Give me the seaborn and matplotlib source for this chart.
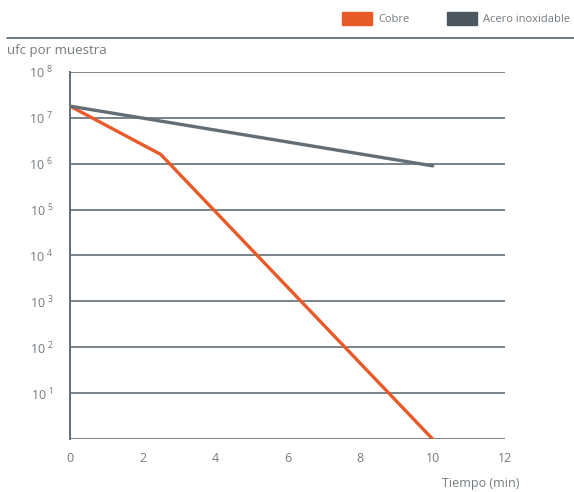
import seaborn as sns
import matplotlib.pyplot as plt
import matplotlib.patches as mpatches
from matplotlib.lines import Line2D
from matplotlib.ticker import FixedLocator, FixedFormatter
import pandas as pd

# data
cobre_t = [0, 2.5, 10]
cobre_ufc = [1.8e7, 1.6e6, 1.0]
acero_t = [0, 10]
acero_ufc = [1.8e7, 9.0e5]
series_names = ['Cobre', 'Acero inoxidable']
x_ticks = [0, 2, 4, 6, 8, 10, 12]
y_decades = [0, 1, 2, 3, 4, 5, 6, 7, 8]

orange = '#E85A28'
slate = '#646E76'
slate_dark = '#4B5861'
txt = '#747B80'

df = pd.DataFrame({
    't': cobre_t + acero_t,
    'ufc': cobre_ufc + acero_ufc,
    'serie': [series_names[0]] * len(cobre_t) + [series_names[1]] * len(acero_t),
})

sns.set_style('white')
plt.rcParams['font.family'] = ['Open Sans', 'DejaVu Sans']
plt.rcParams['mathtext.default'] = 'regular'

fig = plt.figure(figsize=(5.74, 4.92), dpi=100)
ax = fig.add_axes([0.122, 0.1077, 0.758, 0.746])

sns.lineplot(data=df, x='t', y='ufc', hue='serie', hue_order=series_names,
             palette=[orange, slate], linewidth=2.4, legend=False, ax=ax, zorder=3)

ax.set_yscale('log')
ax.set_ylim(1, 1e8)
ax.set_xlim(0, 12)

# decade gridlines
for d in y_decades:
    ax.axhline(10 ** d, color=slate, lw=1.2, zorder=1)

ax.yaxis.set_major_locator(FixedLocator([10 ** d for d in y_decades]))
ax.yaxis.set_major_formatter(FixedFormatter(['' if d == 0 else r'$10^{\ %d}$' % d for d in y_decades]))
ax.yaxis.set_minor_locator(FixedLocator([]))
ax.set_xticks(x_ticks)
ax.set_xticklabels([str(v) for v in x_ticks])
ax.tick_params(axis='both', length=0, labelsize=9, colors=txt)
ax.tick_params(axis='x', pad=9)
ax.tick_params(axis='y', pad=12)

for s in ['top', 'right', 'bottom']:
    ax.spines[s].set_visible(False)
ax.spines['left'].set_color(slate)
ax.spines['left'].set_linewidth(1.4)
ax.set_xlabel('')
ax.set_ylabel('')

fig.text(0.012, 0.898, 'ufc por muestra', fontsize=9.5, color=txt, va='center', ha='left')
fig.text(0.905, 0.018, 'Tiempo (min)', fontsize=9, color=txt, va='center', ha='right')

# header rule
fig.add_artist(Line2D([0.012, 1.0], [0.923, 0.923], color=slate, lw=1.3, transform=fig.transFigure))

handles = [mpatches.Patch(color=orange, label=series_names[0]),
           mpatches.Patch(color=slate_dark, label=series_names[1])]
leg = fig.legend(handles=handles, loc='upper right', bbox_to_anchor=(1.005, 0.99), ncol=2,
                 frameon=False, fontsize=8, handlelength=2.7, handleheight=1.5,
                 columnspacing=3.3, handletextpad=0.6, borderaxespad=0.2)
for t in leg.get_texts():
    t.set_color(txt)

fig.savefig('out.png', dpi=100)
